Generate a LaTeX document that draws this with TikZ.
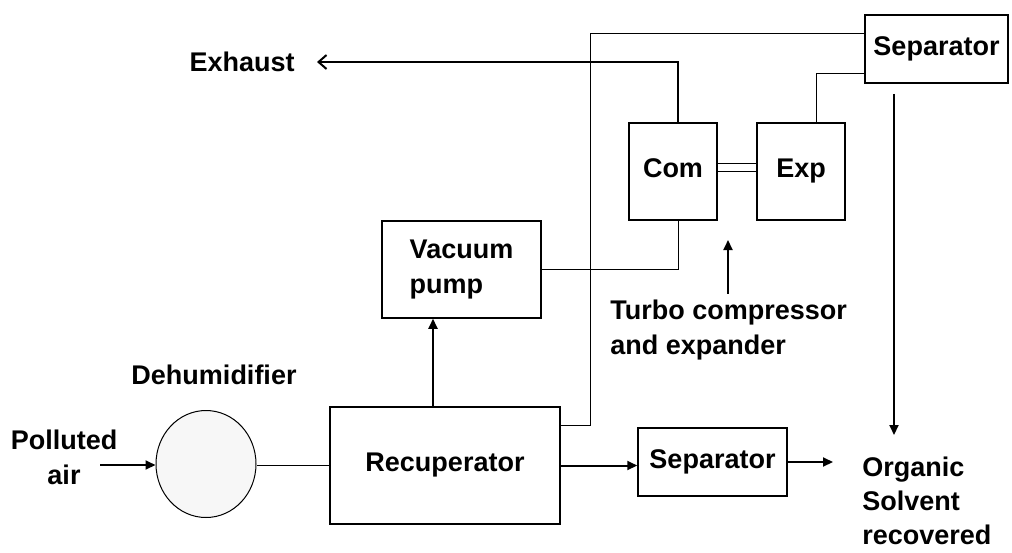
\documentclass[tikz,border=0pt]{standalone}
\usepackage{fontspec}
\setmainfont{Liberation Sans}
\usetikzlibrary{arrows.meta,shapes.geometric}

\begin{document}
\begin{tikzpicture}[x=0.5pt,y=-0.5pt,every node/.style={font=\bfseries\fontsize{13.5}{17.5}\selectfont}]
\tikzset{box/.style={draw, line width=0.75pt, inner sep=0, align=center},
  pipe/.style={line width=0.5pt},
  flow/.style={line width=1pt, -{Triangle[length=5pt,width=4.5pt]}},
  txt/.style={inner sep=0, align=left}}
\useasboundingbox (0,0) rectangle (1012,552);
% units and turbo machinery
\node[box, minimum width=71.5pt, minimum height=34pt] (sepT) at (936.5,49) {Separator};
\node[box, minimum width=44pt, minimum height=48.5pt, text height=1.6ex, text depth=0.4ex] (com) at (673,171.5) {Com};
\node[box, minimum width=44pt, minimum height=48.5pt, text height=1.6ex, text depth=0.4ex] (exp) at (801,171.5) {Exp};
\node[box, minimum width=79.5pt, minimum height=48.5pt, align=left] (vac) at (461.5,269.5) {Vacuum\\pump};
\node[box, minimum width=115pt, minimum height=58.5pt] (rec) at (445,465.5) {Recuperator};
\node[box, minimum width=74.5pt, minimum height=34pt] (sepB) at (712.5,462) {Separator};
\node[draw, ellipse, line width=0.5pt, fill=gray!6, minimum width=50pt, minimum height=53.5pt] (dehum) at (206,464) {};
% labels
\node[txt, anchor=east] (exh) at (295,62) {Exhaust};
\node[txt, align=center] (pol) at (64,457.5) {Polluted\\air};
\node[txt] (dlbl) at (214,375) {Dehumidifier};
\node[txt, anchor=west] (turbo) at (610,330) {Turbo compressor\\and expander};
\node[txt, anchor=west, font=\bfseries\fontsize{13.5}{17}\selectfont] (org) at (862,501) {Organic\\Solvent\\recovered};
\coordinate (inair) at (100,465);
\coordinate (riser) at (590,425);
\coordinate (orgin) at (833,462);
\coordinate (orgtop) at (894,435);
\coordinate (turbotip) at (728,240);
% connections
\draw[flow] (inair) -- (dehum.west |- inair);
\draw[pipe] (dehum.east |- inair) -- (rec.west |- inair);
\draw[flow] (rec.east) -- (rec.east -| sepB.west);
\draw[flow] (sepB.east) -- (orgin);
\draw[flow] ([xshift=-6pt]rec.north) -- ([xshift=-6pt]rec.north |- vac.south);
\draw[pipe] (vac.east) -| ([xshift=2.5pt]com.south);
\draw[line width=1pt, -{Straight Barb[length=4pt,width=7pt]}] ([xshift=2.5pt]com.north) |- ([xshift=11pt]exh.east);
\draw[pipe, double, double distance=3.5pt] ([yshift=2.25pt]com.east) -- ([yshift=2.25pt]exp.west);
\draw[pipe] ([xshift=7.5pt]exp.north) |- ([yshift=-12pt]sepT.west);
\draw[pipe] ([yshift=20.25pt]rec.east) -- (riser) |- ([yshift=8pt]sepT.west);
\draw[flow] ([xshift=-21.25pt,yshift=-5pt]sepT.south) -- (orgtop);
\draw[flow] (turbotip |- turbo.north) ++(0,-6) -- (turbotip);
\end{tikzpicture}
\end{document}
